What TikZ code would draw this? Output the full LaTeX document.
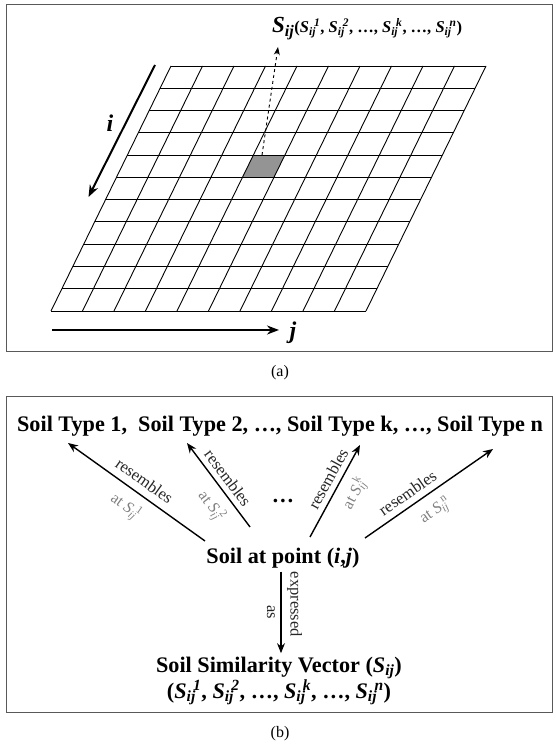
\documentclass[tikz,border=0pt]{standalone}
\usepackage{fontspec}
\setmainfont{Liberation Serif}
\usetikzlibrary{arrows.meta,calc}
\newcommand\Sv[1]{\textit{S}\textsubscript{\textit{ij}}\kern-0.12em\textsuperscript{\textit{#1}}}
\newcommand\Sa[1]{\textit{S}\textsubscript{\textit{ij}}\kern-0.2em\textsuperscript{#1}}
\begin{document}
\begin{tikzpicture}[x=1pt,y=1pt,
  frame/.style={draw=black!65, line width=1pt},
  gridline/.style={line width=0.9pt},
  bigarrow/.style={line width=2pt, -{Stealth[length=12pt,width=9pt]}},
  relarrow/.style={line width=1.4pt, -{Stealth[length=10pt,width=8pt]}},
  rel/.style={font=\fontsize{16.5}{18}\selectfont, text=black!85},
  atlab/.style={font=\fontsize{16}{18}\selectfont, text=black!50},
  title/.style={font=\fontsize{22.2}{25}\selectfont\bfseries},
  captext/.style={font=\fontsize{16}{18}\selectfont}]
\useasboundingbox (0,0) rectangle (555,747);
% ---------- panel (a)
\draw[frame] (6,742) rectangle (552,395);
\coordinate (TL) at (171,681);
\coordinate (TR) at (486,681);
\coordinate (BL) at (51,436);
\coordinate (BR) at (366,436);
\fill[black!42] (253.4,591.9) -- (284.9,591.9) -- (274,569.6) -- (242.5,569.6) -- cycle;
\foreach \r in {0,...,11}
  \draw[gridline] ($(TL)!\r/11!(BL)$) -- ($(TR)!\r/11!(BR)$);
\foreach \c in {0,...,10}
  \draw[gridline] ($(TL)!\c/10!(TR)$) -- ($(BL)!\c/10!(BR)$);
\coordinate (cell) at (262,591.9);
\coordinate (Stip) at (278,700);
\node[anchor=base west, inner sep=0] (Slab) at (272,714)
  {\bfseries{\fontsize{23}{23}\selectfont\textit{S}\textsubscript{\textit{ij}}}\fontsize{16.5}{16.5}\selectfont(\Sv{1}, \Sv{2}, …, \Sv{k}, …, \Sv{n})};
\draw[dashed, line width=0.9pt, -{Stealth[length=8pt,width=6pt]}] (cell) -- (Stip);
\coordinate (i0) at (155,682);
\coordinate (i1) at (88.5,550);
\draw[bigarrow] (i0) -- (i1);
\node[font=\fontsize{24}{24}\selectfont\bfseries\itshape] (ilab) at (110,624) {i};
\coordinate (j0) at (52,417);
\coordinate (j1) at (279,417);
\draw[bigarrow] (j0) -- (j1);
\node[font=\fontsize{24}{24}\selectfont\bfseries\itshape] (jlab) at (293,414) {j};
\node[captext] (capa) at (280,374) {(a)};
% ---------- panel (b)
\draw[frame] (6,350) rectangle (552,34);
\node[title, anchor=base] (types) at (280,315) {Soil Type 1,~ Soil Type 2, …, Soil Type k, …, Soil Type n};
\node[title] (soil) at (283,189) {Soil at point (\textit{i},\textit{j})};
\node[title, align=center] (vec) at (279,66) {Soil Similarity Vector (\textit{S}\textsubscript{\textit{ij}})\\(\Sv{1}, \Sv{2}, …, \Sv{k}, …, \Sv{n})};
\node[title] (dots) at (283,246) {…};
\coordinate (a1) at (205,206); \coordinate (b1) at (68,304);
\coordinate (a2) at (250,220); \coordinate (b2) at (187,304);
\coordinate (ak) at (310,210); \coordinate (bk) at (360,302);
\coordinate (an) at (365,209); \coordinate (bn) at (493,298);
\draw[relarrow] (a1) -- node[rel, sloped, above=4pt, pos=0.5]{resembles}
  node[atlab, sloped, below=5pt, pos=0.5]{at \Sa{1}} (b1);
\draw[relarrow] (a2) -- node[rel, sloped, above=2pt, pos=0.5]{resembles}
  node[atlab, sloped, below=5pt, pos=0.38]{at \Sa{2}} (b2);
\draw[relarrow] (ak) -- node[rel, sloped, above=2pt, pos=0.57]{resembles}
  node[atlab, sloped, below=5pt, pos=0.57]{at \Sa{k}} (bk);
\draw[relarrow] (an) -- node[rel, sloped, above=3pt, pos=0.39]{resembles}
  node[atlab, sloped, below=6pt, pos=0.47]{at \Sa{n}} (bn);
\draw[relarrow] ([xshift=-2pt]soil.south) -- node[rel, sloped, above=2pt, pos=0.4]{expressed}
  node[rel, sloped, below=2pt, pos=0.5]{as} ([xshift=2pt]vec.north);
\node[captext] (capb) at (280,13) {(b)};
\end{tikzpicture}
\end{document}
